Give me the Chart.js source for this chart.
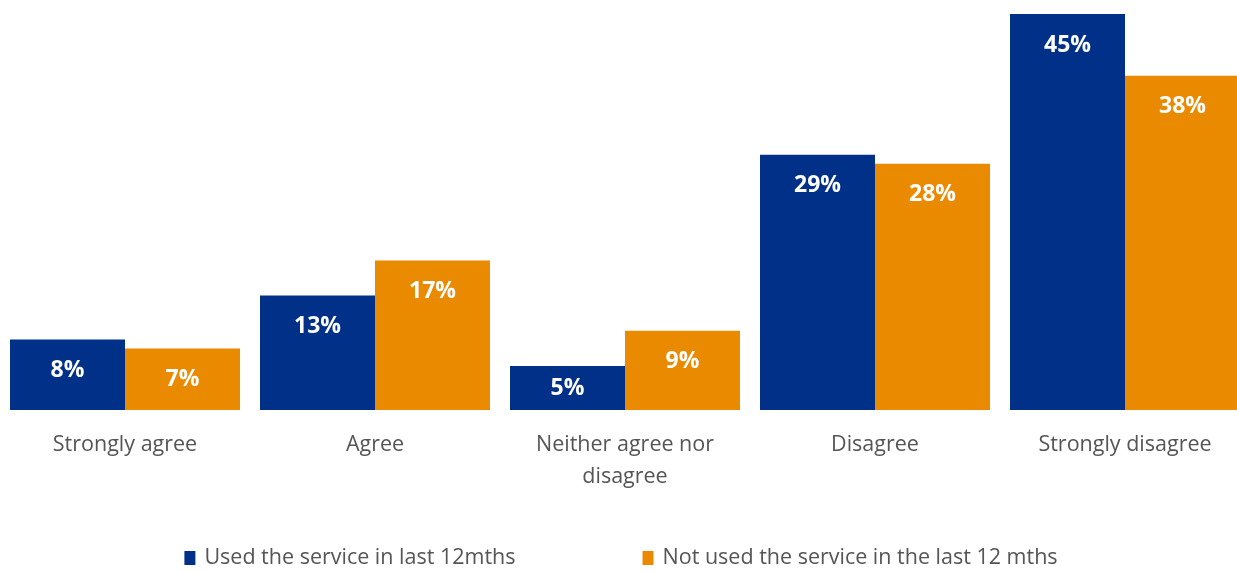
<!DOCTYPE html>
<html>
<head>
<meta charset="utf-8">
<script src="https://cdn.jsdelivr.net/npm/chart.js@4.4.1/dist/chart.umd.min.js"></script>
<style>
  html, body { margin: 0; padding: 0; background: #fff; overflow: hidden; }
  #wrap { width: 1250px; height: 572px; position: relative; }
</style>
</head>
<body>
<div id="wrap"><canvas id="canvas"></canvas></div>
<script>
// Responses by service use
const categories = ['Strongly agree', 'Agree', ['Neither agree nor', 'disagree'], 'Disagree', 'Strongly disagree'];
const seriesNames = ['Used the service in last 12mths', 'Not used the service in the last 12 mths'];
const usedValues = [8, 13, 5, 29, 45];
const notUsedValues = [7, 17, 9, 28, 38];

const BLUE = '#003087';
const ORANGE = '#EA8A00';
const GREY = '#555555';
const FONT = "'Open Sans', sans-serif";

// white percentage labels just inside the top of each bar
const barLabels = {
  id: 'barLabels',
  afterDatasetsDraw(chart) {
    const ctx = chart.ctx;
    ctx.save();
    ctx.fillStyle = '#fff';
    ctx.font = 'bold 23px ' + FONT;
    ctx.textAlign = 'center';
    ctx.textBaseline = 'middle';
    chart.data.datasets.forEach((ds, i) => {
      chart.getDatasetMeta(i).data.forEach((bar, j) => {
        const h = bar.base - bar.y;
        const dy = Math.min(31, h / 2);
        ctx.fillText(ds.data[j] + '%', bar.x, bar.y + dy);
      });
    });
    ctx.restore();
  }
};

// legend row along the bottom, with wide spacing between entries
const bottomLegend = {
  id: 'bottomLegend',
  afterDraw(chart) {
    const ctx = chart.ctx;
    const gap = 127, boxW = 11, boxH = 14, textOff = 20;
    ctx.save();
    ctx.font = '21.5px ' + FONT;
    ctx.textBaseline = 'middle';
    const widths = chart.data.datasets.map(ds => textOff + ctx.measureText(ds.label).width);
    const total = widths.reduce((a, b) => a + b, 0) + gap * (widths.length - 1);
    let x = (chart.chartArea.left + chart.chartArea.right) / 2 - 4 - total / 2;
    const y = 558;
    chart.data.datasets.forEach((ds, i) => {
      ctx.fillStyle = ds.backgroundColor;
      ctx.fillRect(x, y - boxH / 2, boxW, boxH);
      ctx.fillStyle = GREY;
      ctx.fillText(ds.label, x + textOff, y);
      x += widths[i] + gap;
    });
    ctx.restore();
  }
};

new Chart(document.getElementById('canvas').getContext('2d'), {
  type: 'bar',
  data: {
    labels: categories,
    datasets: [
      { label: seriesNames[0], data: usedValues, backgroundColor: BLUE },
      { label: seriesNames[1], data: notUsedValues, backgroundColor: ORANGE }
    ]
  },
  options: {
    responsive: true,
    maintainAspectRatio: false,
    animation: false,
    layout: { padding: { top: 0, bottom: 82, left: 0, right: 0 } },
    datasets: {
      bar: { categoryPercentage: 0.92, barPercentage: 1.0 }
    },
    plugins: {
      legend: { display: false },
      tooltip: { enabled: false }
    },
    scales: {
      x: {
        grid: { display: false, drawTicks: false },
        border: { display: false },
        ticks: {
          color: GREY,
          padding: 19,
          maxRotation: 0,
          font: { family: FONT, size: 21.5, lineHeight: 1.49 }
        },
        afterFit(scale) { scale.height = 80; }
      },
      y: {
        display: false,
        min: 0,
        max: 46.6
      }
    }
  },
  plugins: [barLabels, bottomLegend]
});
</script>
</body>
</html>
